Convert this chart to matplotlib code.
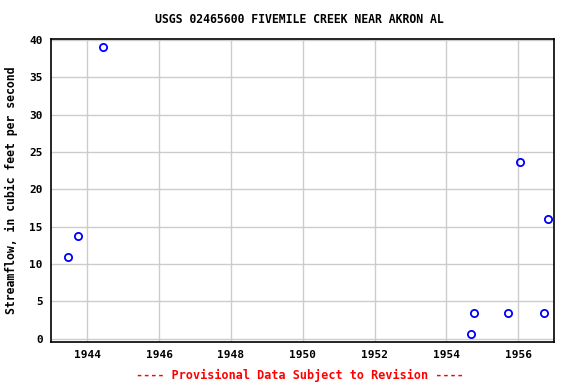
import matplotlib
matplotlib.use('Agg')
from matplotlib import pyplot as plt

years = [1943.47, 1943.75, 1944.45, 1954.69, 1954.78, 1955.73, 1956.05, 1956.72, 1956.84]
flow = [10.9, 13.7, 39.1, 0.6, 3.5, 3.4, 23.6, 3.5, 16.0]
xticks = [1944, 1946, 1948, 1950, 1952, 1954, 1956]
yticks = [0, 5, 10, 15, 20, 25, 30, 35, 40]

plt.rcParams['font.family'] = 'DejaVu Sans Mono'
plt.rcParams['font.weight'] = 'bold'

fig = plt.figure(figsize=(5.76, 3.84), dpi=100)
ax = fig.add_axes([0.089, 0.109, 0.873, 0.789])

ax.plot(years, flow, linestyle='none', marker='o', markersize=5.2,
        markerfacecolor='none', markeredgecolor='#0000ff', markeredgewidth=1.3)

ax.set_xlim(1943.0, 1957.0)
ax.set_ylim(-0.45, 40.1)
ax.set_xticks(xticks)
ax.set_yticks(yticks)
ax.tick_params(length=0, labelsize=8, pad=6)
for lab in ax.get_xticklabels() + ax.get_yticklabels():
    lab.set_fontweight('bold')
ax.grid(True, color='#cccccc', linewidth=1)
ax.set_axisbelow(True)
for s in ax.spines.values():
    s.set_linewidth(1.2)

ax.set_ylabel('Streamflow, in cubic feet per second', fontsize=8.3, fontweight='bold', labelpad=8)
fig.text(0.52, 0.95, 'USGS 02465600 FIVEMILE CREEK NEAR AKRON AL', ha='center', va='center',
         fontsize=8.3, fontweight='bold')
fig.text(0.52, 0.023, '---- Provisional Data Subject to Revision ----', ha='center', va='center',
         fontsize=8.5, fontweight='bold', color='red')

plt.savefig('out.png', dpi=100)
